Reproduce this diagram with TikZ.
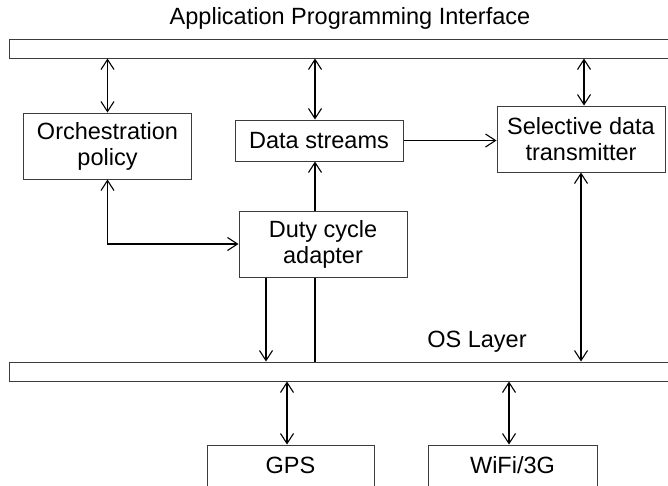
\documentclass[tikz,border=0pt]{standalone}
\usepackage{fontspec}
\setmainfont{Liberation Sans}
\usetikzlibrary{arrows.meta,calc}
\definecolor{boxGray}{RGB}{60,60,60}

\begin{document}
\begin{tikzpicture}[
    x=1pt, y=-1pt,
    every node/.style={font=\fontsize{23.5}{26}\selectfont},
    block/.style={rectangle, draw=boxGray, line width=1pt, align=center, minimum width=168pt, minimum height=66pt, inner sep=0pt},
    thinblock/.style={block, minimum height=41pt},
    bar/.style={rectangle, draw=boxGray, line width=1pt, minimum width=671pt, minimum height=19pt, inner sep=0pt},
    link/.style={draw=black, line width=1.1pt},
    uni/.style={link, -{Straight Barb[length=10pt,width=13pt]}},
    bi/.style={link, {Straight Barb[length=10pt,width=13pt]}-{Straight Barb[length=10pt,width=13pt]}}
]
\useasboundingbox (0,0) rectangle (668,485);
\clip (0,0) rectangle (668,485);

% layers
\node (apilabel) at (350,18) {Application Programming Interface};
\node[bar] (api) at (344.5,48.5) {};
\node (oslabel) at (477,342) {OS Layer};
\node[bar] (os) at (344.5,371.5) {};

% components
\node[block] (orch) at (107.5,146) {Orchestration\\policy};
\node[thinblock] (dstream) at (319,140.5) {Data streams};
\node[block] (seltx) at (581,139) {Selective data\\transmitter};
\node[block] (duty) at (323,244) {Duty cycle\\adapter};
\node[thinblock, minimum width=167pt] (gps) at (290.5,465.5) {GPS};
\node[thinblock, minimum width=169pt] (wifi) at (512.5,465.5) {WiFi/3G};

% lanes
\coordinate (laneData) at (315,0);
\coordinate (laneSel) at (584,0);
\coordinate (laneDuty) at (266,0);
\coordinate (laneGps) at (287,0);
\coordinate (laneWifi) at (509,0);

\draw[bi] (api.south -| orch.north) -- (orch.north);
\draw[bi] (api.south -| laneData) -- (dstream.north -| laneData);
\draw[bi] (api.south -| laneSel) -- (seltx.north -| laneSel);
\draw[uni] (duty.north -| laneData) -- (dstream.south -| laneData);
\draw[uni] (dstream.east) -- (dstream.east -| seltx.west);
\draw[bi] (orch.south) |- (duty.west);
\draw[uni] (duty.south -| laneDuty) -- (os.north -| laneDuty);
\draw[link] (duty.south -| laneData) -- (os.north -| laneData);
\draw[bi] (seltx.south) -- (os.north -| seltx.south);
\foreach \lane/\dev in {laneGps/gps,laneWifi/wifi} \draw[bi] (os.south -| \lane) -- (\dev.north -| \lane);
\end{tikzpicture}
\end{document}
